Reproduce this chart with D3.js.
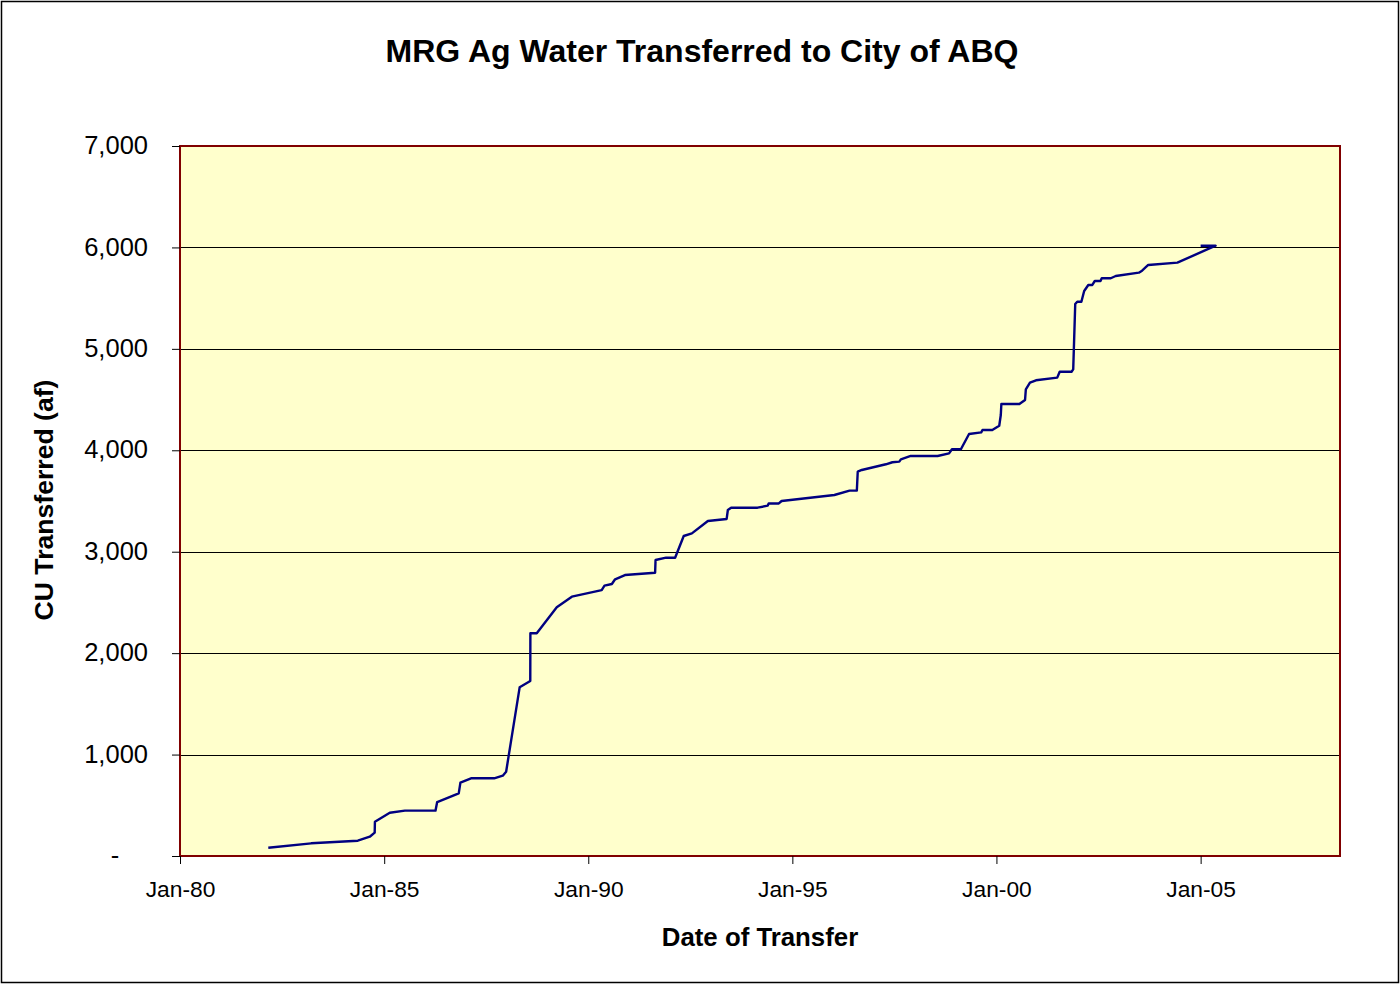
<!DOCTYPE html>
<html>
<head>
<meta charset="utf-8">
<script src="https://cdn.jsdelivr.net/npm/d3@7"></script>
<style>
  body { margin: 0; background: #fff; }
  svg { display: block; font-family: "Liberation Sans", Arial, sans-serif; }
</style>
</head>
<body>
<div id="chart"></div>
<script>
// transfer dates and cumulative CU (af), in the order of the source table
const transferDates = [
  '1982-03-01', '1983-03-20', '1984-05-10', '1984-08-25', '1984-10-08', '1984-10-10',
  '1985-02-20', '1985-07-05', '1986-04-05', '1986-04-20', '1986-10-30', '1986-11-14',
  '1987-02-17', '1987-09-12', '1987-11-28', '1987-12-28', '1988-04-27', '1988-07-31',
  '1988-08-01', '1988-09-27', '1989-03-25', '1989-08-07', '1990-05-01', '1990-05-26',
  '1990-07-31', '1990-08-29', '1990-11-25', '1991-08-22', '1991-08-26', '1991-11-28',
  '1992-02-17', '1992-05-04', '1992-07-16', '1992-12-06', '1993-05-23', '1993-06-03',
  '1993-07-02', '1994-02-24', '1994-05-26', '1994-06-03', '1994-09-02', '1994-09-27',
  '1996-01-12', '1996-05-27', '1996-07-31', '1996-08-08', '1996-09-13', '1997-04-17',
  '1997-06-14', '1997-08-15', '1997-08-29', '1997-11-25', '1998-07-24', '1998-11-03',
  '1998-11-29', '1999-02-17', '1999-05-01', '1999-08-18', '1999-08-29', '1999-11-25',
  '2000-01-26', '2000-02-09', '2000-02-14', '2000-07-24', '2000-09-13', '2000-09-20',
  '2000-10-27', '2000-12-20', '2001-06-28', '2001-07-20', '2001-11-03', '2001-11-18',
  '2001-12-06', '2001-12-24', '2002-01-30', '2002-02-24', '2002-04-02', '2002-05-08',
  '2002-05-30', '2002-07-20', '2002-07-31', '2002-10-20', '2002-12-03', '2003-06-28',
  '2003-07-27', '2003-09-20', '2004-06-07', '2005-05-15', '2005-01-01'
];
const cuTransferred = [
  82, 125, 151, 190, 230, 338,
  427, 447, 447, 532, 618, 723,
  766, 766, 792, 831, 1663, 1725,
  2196, 2196, 2452, 2557, 2622, 2665,
  2682, 2728, 2770, 2793, 2918, 2941,
  2941, 3155, 3181, 3303, 3323, 3411,
  3434, 3434, 3454, 3476, 3476, 3500,
  3559, 3602, 3602, 3789, 3806, 3862,
  3882, 3888, 3911, 3944, 3944, 3970,
  4010, 4010, 4160, 4177, 4200, 4200,
  4242, 4348, 4456, 4456, 4496, 4601,
  4667, 4690, 4716, 4775, 4775, 4798,
  5442, 5465, 5465, 5570, 5630, 5630,
  5669, 5669, 5696, 5696, 5718, 5751,
  5771, 5827, 5850, 6017, 6017
];
const xTickYears = ['1980', '1985', '1990', '1995', '2000', '2005'];
const yTicks = [0, 1000, 2000, 3000, 4000, 5000, 6000, 7000];

const W = 1400, H = 985;
const margin = { top: 146, right: 60, bottom: 129, left: 180 };
const width = W - margin.left - margin.right;
const height = H - margin.top - margin.bottom;

const parse = d3.timeParse('%Y-%m-%d');
const data = transferDates.map((d, i) => ({ date: parse(d), cu: cuTransferred[i] }));

const svg = d3.select('#chart').append('svg')
  .attr('width', W)
  .attr('height', H);

// outer chart border
svg.append('rect')
  .attr('x', 1.5).attr('y', 1.5)
  .attr('width', W - 3).attr('height', H - 4)
  .attr('fill', '#fff')
  .attr('stroke', '#000')
  .attr('stroke-width', 1.5);

const g = svg.append('g')
  .attr('transform', `translate(${margin.left},${margin.top})`);

const x = d3.scaleTime()
  .domain([parse('1980-01-01'), parse('2008-06-01')])
  .range([0, width]);

const y = d3.scaleLinear()
  .domain([0, 7000])
  .range([height, 0]);

// plot area
g.append('rect')
  .attr('width', width)
  .attr('height', height)
  .attr('fill', '#ffffcc');

// gridlines
g.selectAll('.grid')
  .data(yTicks.filter(d => d > 0 && d < 7000))
  .join('line')
  .attr('class', 'grid')
  .attr('x1', 0).attr('x2', width)
  .attr('y1', d => Math.round(y(d)) + 0.5)
  .attr('y2', d => Math.round(y(d)) + 0.5)
  .attr('stroke', '#000')
  .attr('stroke-width', 1);

g.append('rect')
  .attr('width', width)
  .attr('height', height)
  .attr('fill', 'none')
  .attr('stroke', '#800000')
  .attr('stroke-width', 2);

// y axis
const yAxis = g.append('g')
  .call(d3.axisLeft(y)
    .tickValues(yTicks)
    .tickSize(8)
    .tickPadding(24)
    .tickFormat(d => d === 0 ? '-' : d3.format(',')(d)));
yAxis.select('.domain').remove();
yAxis.selectAll('.tick line').attr('stroke', '#000');
yAxis.selectAll('.tick text')
  .attr('font-size', 25.5)
  .attr('fill', '#000')
  .attr('dy', '0.3em')
  .filter(d => d === 0)
  .attr('x', -65)
  .attr('text-anchor', 'middle');

// x axis
const xAxis = g.append('g')
  .attr('transform', `translate(0,${height})`)
  .call(d3.axisBottom(x)
    .tickValues(xTickYears.map(yr => parse(yr + '-01-01')))
    .tickSize(8)
    .tickPadding(17)
    .tickFormat(d3.timeFormat('Jan-%y')));
xAxis.select('.domain').remove();
xAxis.selectAll('.tick line').attr('stroke', '#000');
xAxis.selectAll('.tick text')
  .attr('font-size', 22.8)
  .attr('fill', '#000');

// the line
g.append('path')
  .datum(data)
  .attr('fill', 'none')
  .attr('stroke', '#000080')
  .attr('stroke-width', 2.4)
  .attr('stroke-linejoin', 'round')
  .attr('d', d3.line().x(d => x(d.date)).y(d => y(d.cu)));

// titles
svg.append('text')
  .attr('x', 702).attr('y', 62)
  .attr('text-anchor', 'middle')
  .attr('font-size', 32)
  .attr('font-weight', 'bold')
  .text('MRG Ag Water Transferred to City of ABQ');

svg.append('text')
  .attr('x', 760).attr('y', 946)
  .attr('text-anchor', 'middle')
  .attr('font-size', 25.8)
  .attr('font-weight', 'bold')
  .text('Date of Transfer');

svg.append('text')
  .attr('transform', 'translate(53,500) rotate(-90)')
  .attr('text-anchor', 'middle')
  .attr('font-size', 26.6)
  .attr('font-weight', 'bold')
  .text('CU Transferred (af)');
</script>
</body>
</html>
